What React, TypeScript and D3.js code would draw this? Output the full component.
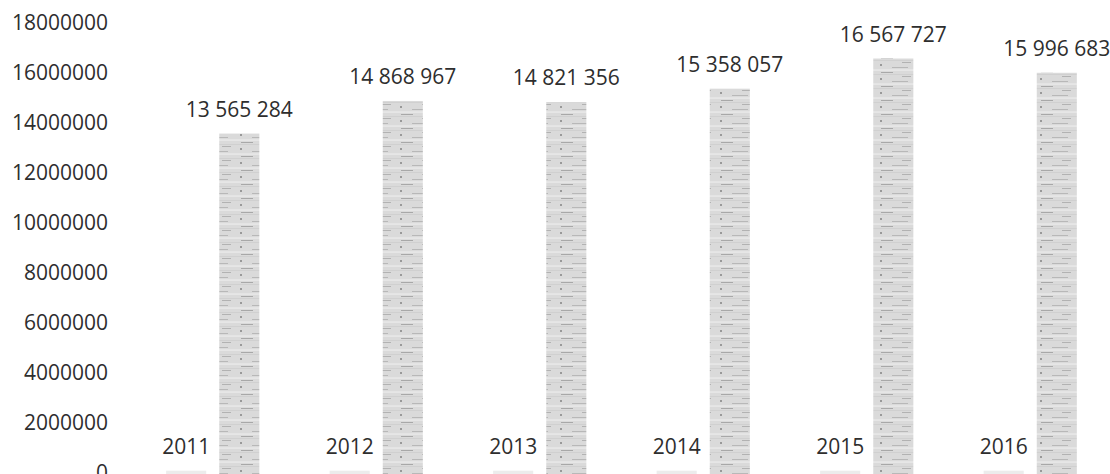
import React from "react";
import * as d3 from "d3";

const years = ["2011", "2012", "2013", "2014", "2015", "2016"];
const yearValues = [2011, 2012, 2013, 2014, 2015, 2016];
const totals = [13565284, 14868967, 14821356, 15358057, 16567727, 15996683];
const yTicks = [0, 2000000, 4000000, 6000000, 8000000, 10000000, 12000000, 14000000, 16000000, 18000000];
const seriesNames = ["Год", "Значение"];

const W = 1110;
const H = 474;
const FONT = "'Open Sans', 'DejaVu Sans', sans-serif";

export default function App() {
  const y = d3.scaleLinear().domain([0, 18000000]).range([472.7, 22.7]);
  const x0 = d3.scaleBand<string>().domain(years).range([131, 1112]).paddingInner(0.43).paddingOuter(0.215);
  const x1 = d3.scaleBand<string>().domain(seriesNames).range([0, x0.bandwidth()]).paddingInner(0.245);
  const fmt = (v: number) => d3.format(",")(v).replace(/,/g, " ");
  const labelGap = 17;

  return (
    <svg width={W} height={H} style={{ position: "absolute", left: 0, top: 0, background: "#fff" }}>
      <defs>
        <pattern id="tex" width="40" height="14" patternUnits="userSpaceOnUse">
          <rect width="40" height="14" fill="#dadada" />
          <rect y="0" width="40" height="1" fill="#e6e6e6" />
          <rect y="4" width="40" height="1" fill="#d0d0d0" />
          <rect x="1" y="2" width="12" height="1" fill="#a8a8a8" />
          <rect x="22" y="6" width="9" height="1" fill="#b2b2b2" />
          <rect x="0" y="8" width="2" height="2" fill="#999" />
          <rect x="12" y="11" width="16" height="1" fill="#b8b8b8" />
          <rect y="13" width="40" height="1" fill="#e4e4e4" />
        </pattern>
      </defs>
      {yTicks.map((t) => (
        <text key={t} x={108} y={y(t)} dy="0.35em" textAnchor="end" fontFamily={FONT} fontSize={21} fill="#2e2e2e">
          {t}
        </text>
      ))}
      {years.map((yr, i) => {
        const bx = x0(yr)!;
        const xa = bx + x1(seriesNames[0])!;
        const xb = bx + x1(seriesNames[1])!;
        const bw = x1.bandwidth();
        const ha = Math.max(y(0) - y(yearValues[i]), 2);
        const topB = y(totals[i]);
        return (
          <g key={yr}>
            <rect x={xa} y={y(0) - ha} width={bw} height={ha + 2} fill="#ececec" />
            <text x={xa + bw / 2} y={y(0) - ha - labelGap} textAnchor="middle" fontFamily={FONT} fontSize={21} fill="#2e2e2e">
              {yearValues[i]}
            </text>
            <rect x={xb} y={topB} width={bw} height={H - topB} fill="url(#tex)" />
            <text x={xb + bw / 2} y={topB - labelGap} textAnchor="middle" fontFamily={FONT} fontSize={21} fill="#2e2e2e">
              {fmt(totals[i])}
            </text>
          </g>
        );
      })}
    </svg>
  );
}
